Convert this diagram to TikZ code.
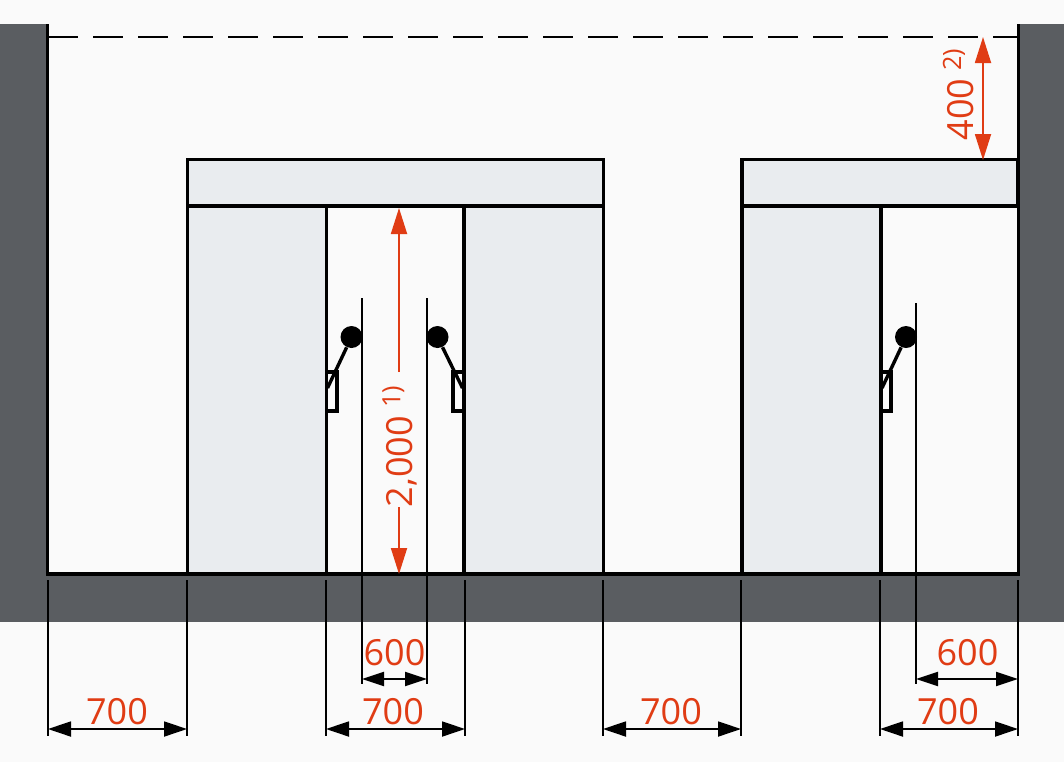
\documentclass[tikz,border=0pt]{standalone}
\usepackage{fontspec}
\setmainfont{Open Sans}
\usetikzlibrary{arrows.meta}
\definecolor{wallgray}{HTML}{5A5D61}
\definecolor{panelgray}{HTML}{E9ECEF}
\definecolor{paper}{HTML}{FAFAFA}
\definecolor{dimred}{HTML}{E03C14}
\begin{document}
\begin{tikzpicture}
[x=0.5pt,y=-0.5pt,
wall/.style={fill=wallgray,draw=none},
panel/.style={draw=black,fill=panelgray,line width=1.9pt},
edge/.style={draw=black,line width=1.9pt},
thin line/.style={draw=black,line width=0.95pt},
dim/.style={thin line,{Triangle[length=11.5pt,width=7.5pt]}-{Triangle[length=11.5pt,width=7.5pt]}},
smalldim/.style={thin line,line width=1pt,{Triangle[length=11pt,width=7pt]}-{Triangle[length=11pt,width=7pt]}},
reddim/.style={draw=dimred,fill=dimred,line width=0.9pt,-{Triangle[length=13pt,width=8pt]}},
label/.style={text=dimred,font=\fontsize{18}{18}\selectfont,inner sep=0pt},
ball/.style={circle,fill=black,draw=none,minimum size=11pt,inner sep=0pt},
handle/.style={draw=black,line width=1.7pt},
]
\fill[paper] (0,0) rectangle (1064,762);
\useasboundingbox (0,0) rectangle (1064,762);

% walls and floor
\fill[wall] (0,24) rectangle (47,622);
\fill[wall] (1018,24) rectangle (1064,622);
\fill[wall] (47,574) rectangle (1018,622);

% door frames
\draw[panel] (187.5,159.5) rectangle (603.5,206);
\draw[panel] (187.5,206) rectangle (326.5,574);
\draw[panel] (464,206) rectangle (603.5,574);
\draw[panel] (742,159.5) rectangle (1018,206);
\draw[panel] (742,206) rectangle (881,574);
\draw[edge] (47.5,24) -- (47.5,574) -- (1018.5,574) -- (1018.5,24);
\draw[thin line,line width=0.65pt,dash pattern=on 15pt off 7.5pt] (48,37) -- (1018,37);

\coordinate (top1) at (362,298);
\coordinate (top2) at (427,298);
\coordinate (top3) at (916,303);
\coordinate (a0) at (48,580);
\coordinate (a1) at (187,580);
\coordinate (a2) at (326,580);
\coordinate (a3) at (465,580);
\coordinate (a4) at (603,580);
\coordinate (a5) at (741,580);
\coordinate (a6) at (880,580);
\coordinate (a7) at (1018,580);
\coordinate (b0) at (48,736);
\coordinate (b1) at (187,736);
\coordinate (b2) at (326,736);
\coordinate (b3) at (465,736);
\coordinate (b4) at (603,736);
\coordinate (b5) at (741,736);
\coordinate (b6) at (880,736);
\coordinate (b7) at (1018,736);
\coordinate (c1) at (362,684);
\coordinate (c2) at (427,684);
\coordinate (c3) at (916,684);
\coordinate (c4) at (1018,679);

% handles
\node (H1) at (351.5,337)[ball]{};
\node (H2) at (437.5,337)[ball]{};
\node (H3) at (906,337)[ball]{};
\coordinate (h1) at (327.5,388);
\coordinate (h2) at (462.5,388);
\coordinate (h3) at (882,388);
\draw[handle] (326.5,372) rectangle (337,411);
\draw[handle] (453,372) rectangle (464,411);
\draw[handle] (881,372) rectangle (891,411);
\draw[handle] (H1)--(h1);
\draw[handle] (H2)--(h2);
\draw[handle] (H3)--(h3);

% extension lines
\draw[thin line] (a0)--(b0);
\draw[thin line] (a1)--(b1);
\draw[thin line] (a2)--(b2);
\draw[thin line] (a3)--(b3);
\draw[thin line] (a4)--(b4);
\draw[thin line] (a5)--(b5);
\draw[thin line] (a6)--(b6);
\draw[thin line] (a7)--(b7);
\draw[thin line] (top1)--(c1);
\draw[thin line] (top2)--(c2);
\draw[thin line] (top3)--(c3);

% dimensions
\coordinate (d0) at (48,729);
\coordinate (d1) at (187,729);
\coordinate (d2) at (326,729);
\coordinate (d3) at (465,729);
\coordinate (d4) at (603,729);
\coordinate (d5) at (741,729);
\coordinate (d6) at (880,729);
\coordinate (d7) at (1018,729);
\coordinate (e1) at (362,679);
\coordinate (e2) at (427,679);
\coordinate (e3) at (916,679);
\draw[dim] (d0)--(d1);
\draw[dim] (d2)--(d3);
\draw[dim] (d4)--(d5);
\draw[dim] (d6)--(d7);
\draw[smalldim] (e1)--(e2);
\draw[smalldim] (e3)--(c4);
\node (w1) at (117,712)[label]{700};
\node (w2) at (393,712)[label]{700};
\node (w3) at (671,712)[label]{700};
\node (w4) at (948,712)[label]{700};
\node (w5) at (394.5,653)[label]{600};
\node (w6) at (967.5,653)[label]{600};

% clear heights
\coordinate (r1) at (399,372);
\coordinate (r2) at (399,208);
\coordinate (r3) at (399,507);
\coordinate (r4) at (399,574);
\coordinate (r5) at (983,80);
\coordinate (r6) at (983,37);
\coordinate (r7) at (983,160);
\draw[reddim] (r1)--(r2);
\draw[reddim] (r3)--(r4);
\draw[reddim] (r5)--(r6);
\draw[reddim] (r5)--(r7);
\node (v1) at (400,446)[label,rotate=90]{2,000\hspace{4pt}\textsuperscript{1)}};
\node (v2) at (958.5,94)[label,rotate=90]{400\hspace{4pt}\textsuperscript{2)}};

\end{tikzpicture}
\end{document}
